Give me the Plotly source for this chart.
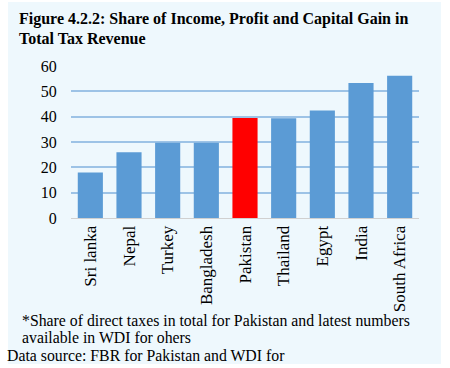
import plotly.graph_objects as go

categories = ["Sri lanka", "Nepal", "Turkey", "Bangladesh", "Pakistan",
              "Thailand", "Egypt", "India", "South Africa"]
values = [18.0, 26.0, 29.7, 29.7, 39.5, 39.4, 42.4, 53.3, 56.2]
bar_colors = ["#5B9BD5", "#5B9BD5", "#5B9BD5", "#5B9BD5", "#FF0000",
              "#5B9BD5", "#5B9BD5", "#5B9BD5", "#5B9BD5"]
y_ticks = [0, 10, 20, 30, 40, 50, 60]

title_lines = ["Figure 4.2.2: Share of Income, Profit and Capital Gain in",
               "Total Tax Revenue"]
note_lines = ["*Share of direct taxes in total for Pakistan and latest numbers",
              "available in WDI for ohers"]
source_text = "Data source: FBR for Pakistan and WDI for"

W, H = 450, 368
L, R, T, B = 71, 31, 66, 150
pw, ph = W - L - R, H - T - B

def px(x):
    return (x - L) / pw

def py(y):
    return (H - B - y) / ph

serif = "Liberation Serif"

fig = go.Figure(go.Bar(x=categories, y=values, marker_color=bar_colors,
                       marker_line_width=0))

annotations = []
for i, line in enumerate(title_lines):
    annotations.append(dict(text="<b>" + line + "</b>", xref="paper", yref="paper",
                            x=px(17), y=py(19 + 19 * i), xanchor="left", yanchor="middle",
                            showarrow=False, font=dict(size=16, family=serif, color="#000")))
for i, line in enumerate(note_lines):
    annotations.append(dict(text=line, xref="paper", yref="paper",
                            x=px(20), y=py(320 + 17 * i), xanchor="left", yanchor="middle",
                            showarrow=False, font=dict(size=15.8, family=serif, color="#000")))
annotations.append(dict(text=source_text, xref="paper", yref="paper",
                        x=px(5), y=py(355), xanchor="left", yanchor="middle",
                        showarrow=False, font=dict(size=15.8, family=serif, color="#000")))

fig.update_layout(
    width=W, height=H,
    margin=dict(l=L, r=R, t=T, b=B, autoexpand=False),
    paper_bgcolor="white",
    plot_bgcolor="rgba(0,0,0,0)",
    bargap=0.35,
    showlegend=False,
    font=dict(family=serif, color="#000000"),
    xaxis=dict(tickangle=-90, tickfont=dict(size=17, family=serif, color="#000"),
               showgrid=False, showline=True, linecolor="#D0D0D0", linewidth=1,
               ticks="", automargin=False),
    yaxis=dict(range=[0, 60], tickvals=y_ticks, tickfont=dict(size=16, family=serif, color="#000"),
               showgrid=True, gridcolor="#9DC3E6", gridwidth=1.5, zeroline=False,
               showline=False, ticks="outside", ticklen=10, tickcolor="rgba(0,0,0,0)",
               automargin=False),
    shapes=[dict(type="rect", xref="paper", yref="paper", layer="below",
                 x0=px(8), x1=px(441), y0=py(364), y1=py(2),
                 fillcolor="#EEF8FD", line_width=0)],
    annotations=annotations,
)

fig.write_html("out.html", config={"displayModeBar": False},
               post_script="document.body.style.margin='0';document.body.style.padding='0';")
